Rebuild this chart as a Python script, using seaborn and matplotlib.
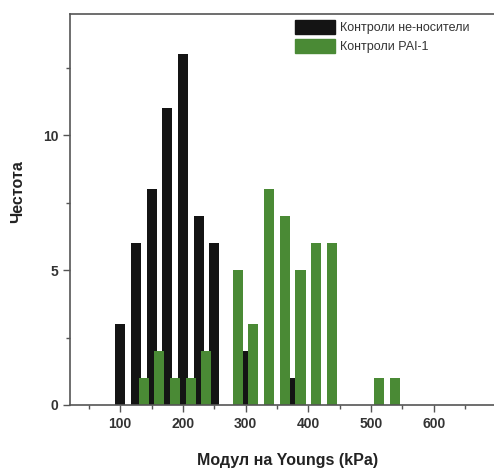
import pandas as pd
import matplotlib
matplotlib.use("Agg")
import matplotlib.pyplot as plt
import matplotlib.patches as mpatches
from matplotlib.ticker import MultipleLocator
import seaborn as sns

# --- DATA ---
BLACK_X = [100, 125, 150, 175, 200, 225, 250, 300, 375]
BLACK_Y = [3, 6, 8, 11, 13, 7, 6, 2, 1]
GREEN_X = [137.5, 162.5, 187.5, 212.5, 237.5, 287.5, 312.5, 337.5,
           362.5, 387.5, 412.5, 437.5, 512.5, 537.5]
GREEN_Y = [1, 2, 1, 1, 2, 5, 3, 8, 7, 5, 6, 6, 1, 1]
LABELS = ["Контроли не-носители", "Контроли PAI-1"]
COLORS = ["#141414", "#4a8a35"]

sns.set_style("white")
plt.rcParams['font.family'] = ['Liberation Sans', 'DejaVu Sans']

df_black = pd.DataFrame({"x": BLACK_X, "y": BLACK_Y})
df_green = pd.DataFrame({"x": GREEN_X, "y": GREEN_Y})

fig = plt.figure(figsize=(4.94, 4.74), dpi=100)
ax = fig.add_axes([70 / 494, 69 / 474, 424 / 494, 391 / 474])

# barras: negro primero, verde encima
sns.barplot(data=df_black, x="x", y="y", native_scale=True, width=0.64,
            color=COLORS[0], saturation=1, ax=ax, linewidth=0)
sns.barplot(data=df_green, x="x", y="y", native_scale=True, width=0.64,
            color=COLORS[1], saturation=1, ax=ax, linewidth=0)

ax.set_xlim(20, 696)
ax.set_ylim(0, 14.5)
ax.xaxis.set_major_locator(MultipleLocator(100))
ax.xaxis.set_minor_locator(MultipleLocator(50))
ax.yaxis.set_major_locator(MultipleLocator(5))
ax.yaxis.set_minor_locator(MultipleLocator(2.5))

for s in ["left", "bottom", "top"]:
    ax.spines[s].set_color("#555555")
    ax.spines[s].set_linewidth(1.2)
ax.spines["right"].set_visible(False)

ax.tick_params(axis="both", which="major", direction="out", length=5, width=1,
               color="#555555", labelsize=10, labelcolor="#333333")
ax.tick_params(axis="both", which="minor", direction="out", length=3, width=1,
               color="#555555")
ax.tick_params(axis="x", which="both", bottom=True)
ax.tick_params(axis="y", which="both", left=True)
for lab in ax.get_xticklabels() + ax.get_yticklabels():
    lab.set_fontweight("bold")

ax.set_xlabel("Модул на Youngs (kPa)", fontsize=11.5, fontweight="bold", color="#222222")
ax.set_ylabel("Честота", fontsize=11.5, fontweight="bold", color="#222222")
ax.xaxis.set_label_coords(0.512, -0.122)
ax.yaxis.set_label_coords(-0.106, 0.547)

# Leyenda
patches = [mpatches.Patch(color=COLORS[k], label=LABELS[k]) for k in range(2)]
fig.legend(handles=patches, loc="upper left", bbox_to_anchor=(295 / 494, 1 - 20 / 474),
           frameon=False, fontsize=9, handlelength=3.2, handleheight=1.3,
           handletextpad=0.4, labelspacing=0.4, borderpad=0, borderaxespad=0,
           labelcolor="#333333")

plt.savefig("out.png", dpi=100)
